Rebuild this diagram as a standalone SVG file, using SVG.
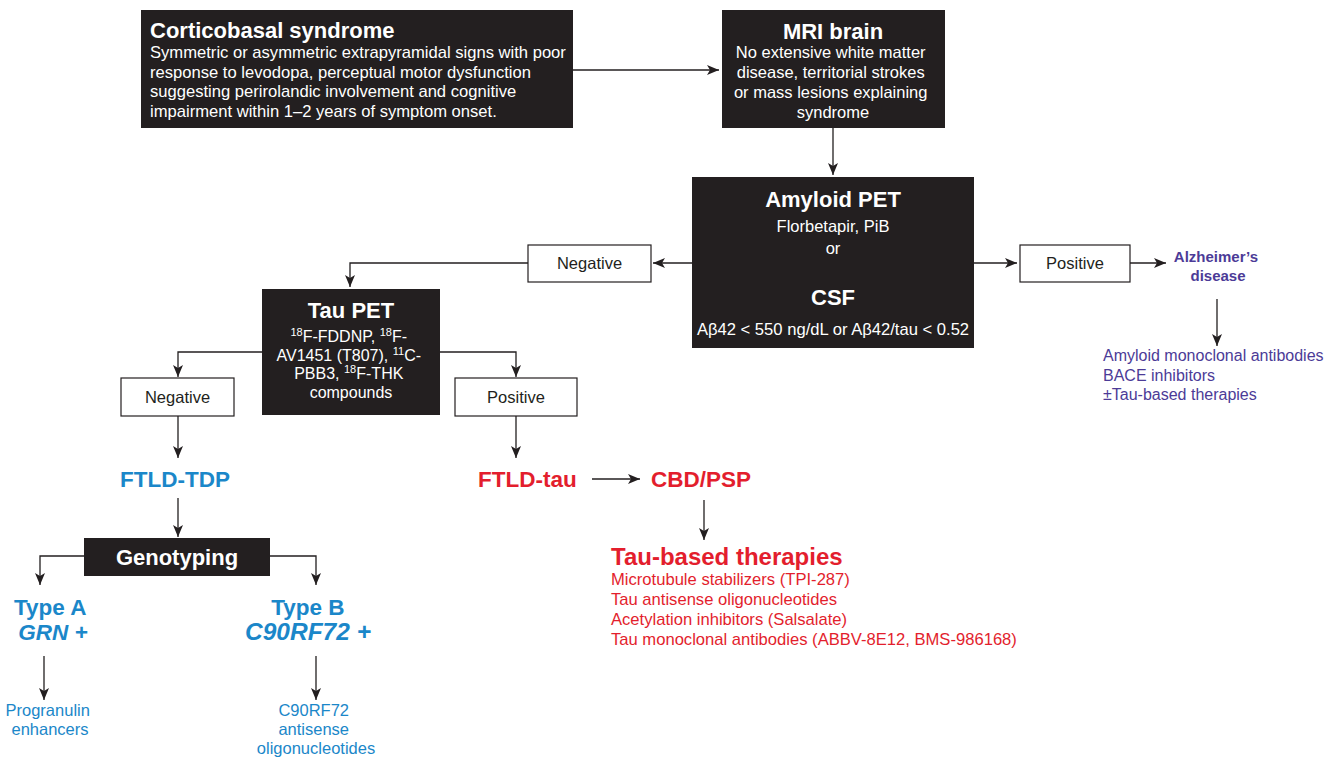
<svg xmlns="http://www.w3.org/2000/svg" width="1337" height="759" viewBox="0 0 1337 759">
  <defs>
    <marker id="ah" viewBox="0 0 12 10" refX="12" refY="5" markerWidth="12" markerHeight="10" markerUnits="userSpaceOnUse" orient="auto">
      <path d="M0,0 L12,5 L0,10 L3,5 Z" fill="#231f20"/>
    </marker>
    <style>
      text { font-family: "Liberation Sans", Arial, sans-serif; }
      .dark { fill: #231f20; }
      .open { fill: #ffffff; stroke: #231f20; stroke-width: 1.2; }
      .wt { fill: #ffffff; }
      .wh { fill: #ffffff; font-weight: bold; font-size: 22px; }
      .lbl { fill: #231f20; font-size: 16.5px; }
      .blue { fill: #1b87c9; }
      .red { fill: #e31e2d; }
      .purple { fill: #4c3b97; }
      .big { font-weight: bold; font-size: 22.5px; }
      .link { fill: none; stroke: #231f20; stroke-width: 1.3; marker-end: url(#ah); }
    </style>
  </defs>

  <g id="connectors">
    <path class="link" d="M573,70 H719"/>
    <path class="link" d="M833,128 V175"/>
    <path class="link" d="M692,263 H653"/>
    <path class="link" d="M528,263 H350 V287"/>
    <path class="link" d="M974,263 H1017"/>
    <path class="link" d="M1130,263 H1166"/>
    <path class="link" d="M1217,299 V346"/>
    <path class="link" d="M262,352 H178 V377"/>
    <path class="link" d="M440,352 H516 V377"/>
    <path class="link" d="M178,416 V458"/>
    <path class="link" d="M516,416 V458"/>
    <path class="link" d="M592,479 H640"/>
    <path class="link" d="M704,500 V540"/>
    <path class="link" d="M178,498 V537"/>
    <path class="link" d="M84,556 H40 V585"/>
    <path class="link" d="M270,556 H316 V585"/>
    <path class="link" d="M44,656 V700"/>
    <path class="link" d="M316,656 V700"/>
  </g>

  <g id="corticobasal">
    <rect class="dark" x="141" y="10" width="432" height="118"/>
    <text class="wh" x="150" y="38">Corticobasal syndrome</text>
    <text class="wt" font-size="16.6">
      <tspan x="150" y="58">Symmetric or asymmetric extrapyramidal signs with poor</tspan>
      <tspan x="150" y="78">response to levodopa, perceptual motor dysfunction</tspan>
      <tspan x="150" y="97">suggesting perirolandic involvement and cognitive</tspan>
      <tspan x="150" y="117">impairment within 1–2 years of symptom onset.</tspan>
    </text>
  </g>

  <g id="mri">
    <rect class="dark" x="722" y="10" width="223" height="118"/>
    <text class="wh" x="833" y="39" text-anchor="middle">MRI brain</text>
    <text class="wt" font-size="16.5" text-anchor="middle">
      <tspan x="833" y="58">No extensive white matter</tspan>
      <tspan x="833" y="78">disease, territorial strokes</tspan>
      <tspan x="833" y="98">or mass lesions explaining</tspan>
      <tspan x="833" y="118">syndrome</tspan>
    </text>
  </g>

  <g id="amyloid">
    <rect class="dark" x="692" y="177" width="282" height="171"/>
    <text class="wh" x="833" y="207" text-anchor="middle">Amyloid PET</text>
    <text class="wt" font-size="16.5" x="833" y="232" text-anchor="middle">Florbetapir, PiB</text>
    <text class="wt" font-size="16.5" x="833" y="254" text-anchor="middle">or</text>
    <text class="wh" x="833" y="305" text-anchor="middle" font-size="24">CSF</text>
    <text class="wt" font-size="16.6" x="833" y="335" text-anchor="middle">Aβ42 &lt; 550 ng/dL or Aβ42/tau &lt; 0.52</text>
  </g>

  <g id="amyloid-negative">
    <rect class="open" x="528" y="245" width="123" height="37"/>
    <text class="lbl" x="589.5" y="269" text-anchor="middle">Negative</text>
  </g>

  <g id="amyloid-positive">
    <rect class="open" x="1020" y="245" width="110" height="37"/>
    <text class="lbl" x="1075" y="269" text-anchor="middle">Positive</text>
  </g>

  <g id="alzheimers">
    <text class="purple" font-weight="bold" font-size="15" text-anchor="middle">
      <tspan x="1218" y="262">Alzheimer’s</tspan>
      <tspan x="1218" y="281">disease</tspan>
    </text>
  </g>

  <g id="alzheimers-therapies">
    <text class="purple" font-size="16">
      <tspan x="1103" y="361">Amyloid monoclonal antibodies</tspan>
      <tspan x="1103" y="381">BACE inhibitors</tspan>
      <tspan x="1103" y="400">±Tau-based therapies</tspan>
    </text>
  </g>

  <g id="tau-pet">
    <rect class="dark" x="262" y="289" width="178" height="126"/>
    <text class="wh" x="351" y="318" text-anchor="middle" font-size="22.5">Tau PET</text>
    <text class="wt" font-size="16" text-anchor="middle">
      <tspan x="351" y="342"><tspan font-size="11" dy="-6">18</tspan><tspan dy="6">F-FDDNP, </tspan><tspan font-size="11" dy="-6">18</tspan><tspan dy="6">F-</tspan></tspan>
      <tspan x="351" y="361">AV1451 (T807), <tspan font-size="11" dy="-6">11</tspan><tspan dy="6">C-</tspan></tspan>
      <tspan x="351" y="379">PBB3, <tspan font-size="11" dy="-6">18</tspan><tspan dy="6">F-THK</tspan></tspan>
      <tspan x="351" y="398">compounds</tspan>
    </text>
  </g>

  <g id="tau-negative">
    <rect class="open" x="121" y="378" width="113" height="38"/>
    <text class="lbl" x="177.5" y="403" text-anchor="middle">Negative</text>
  </g>

  <g id="tau-positive">
    <rect class="open" x="455" y="378" width="122" height="38"/>
    <text class="lbl" x="516" y="403" text-anchor="middle">Positive</text>
  </g>

  <g id="ftld-tdp">
    <text class="blue big" x="175" y="487" text-anchor="middle">FTLD-TDP</text>
  </g>

  <g id="genotyping">
    <rect class="dark" x="84" y="538" width="186" height="38"/>
    <text class="wh" x="177" y="565" text-anchor="middle" font-size="23">Genotyping</text>
  </g>

  <g id="type-a">
    <text class="blue big" text-anchor="middle" font-size="23">
      <tspan x="53" y="615">Type A</tspan>
      <tspan x="53" y="640" font-style="italic">GRN +</tspan>
    </text>
  </g>

  <g id="type-b">
    <text class="blue big" text-anchor="middle" font-size="23">
      <tspan x="311" y="615">Type B</tspan>
      <tspan x="308" y="640" font-style="italic" font-size="24.5">C90RF72 +</tspan>
    </text>
  </g>

  <g id="progranulin">
    <text class="blue" font-size="16.5" text-anchor="middle">
      <tspan x="50" y="716">Progranulin</tspan>
      <tspan x="50" y="735">enhancers</tspan>
    </text>
  </g>

  <g id="c9-antisense">
    <text class="blue" font-size="16.5" text-anchor="middle">
      <tspan x="316" y="716">C90RF72</tspan>
      <tspan x="316" y="735">antisense</tspan>
      <tspan x="316" y="754">oligonucleotides</tspan>
    </text>
  </g>

  <g id="ftld-tau">
    <text class="red big" x="478" y="487" font-size="24">FTLD-tau</text>
  </g>

  <g id="cbd-psp">
    <text class="red big" x="651" y="487" font-size="24">CBD/PSP</text>
  </g>

  <g id="tau-therapies">
    <text class="red" x="611" y="565" font-weight="bold" font-size="24">Tau-based therapies</text>
    <text class="red" font-size="16.6">
      <tspan x="611" y="585">Microtubule stabilizers (TPI-287)</tspan>
      <tspan x="611" y="605">Tau antisense oligonucleotides</tspan>
      <tspan x="611" y="625">Acetylation inhibitors (Salsalate)</tspan>
      <tspan x="611" y="645">Tau monoclonal antibodies (ABBV-8E12, BMS-986168)</tspan>
    </text>
  </g>
</svg>
